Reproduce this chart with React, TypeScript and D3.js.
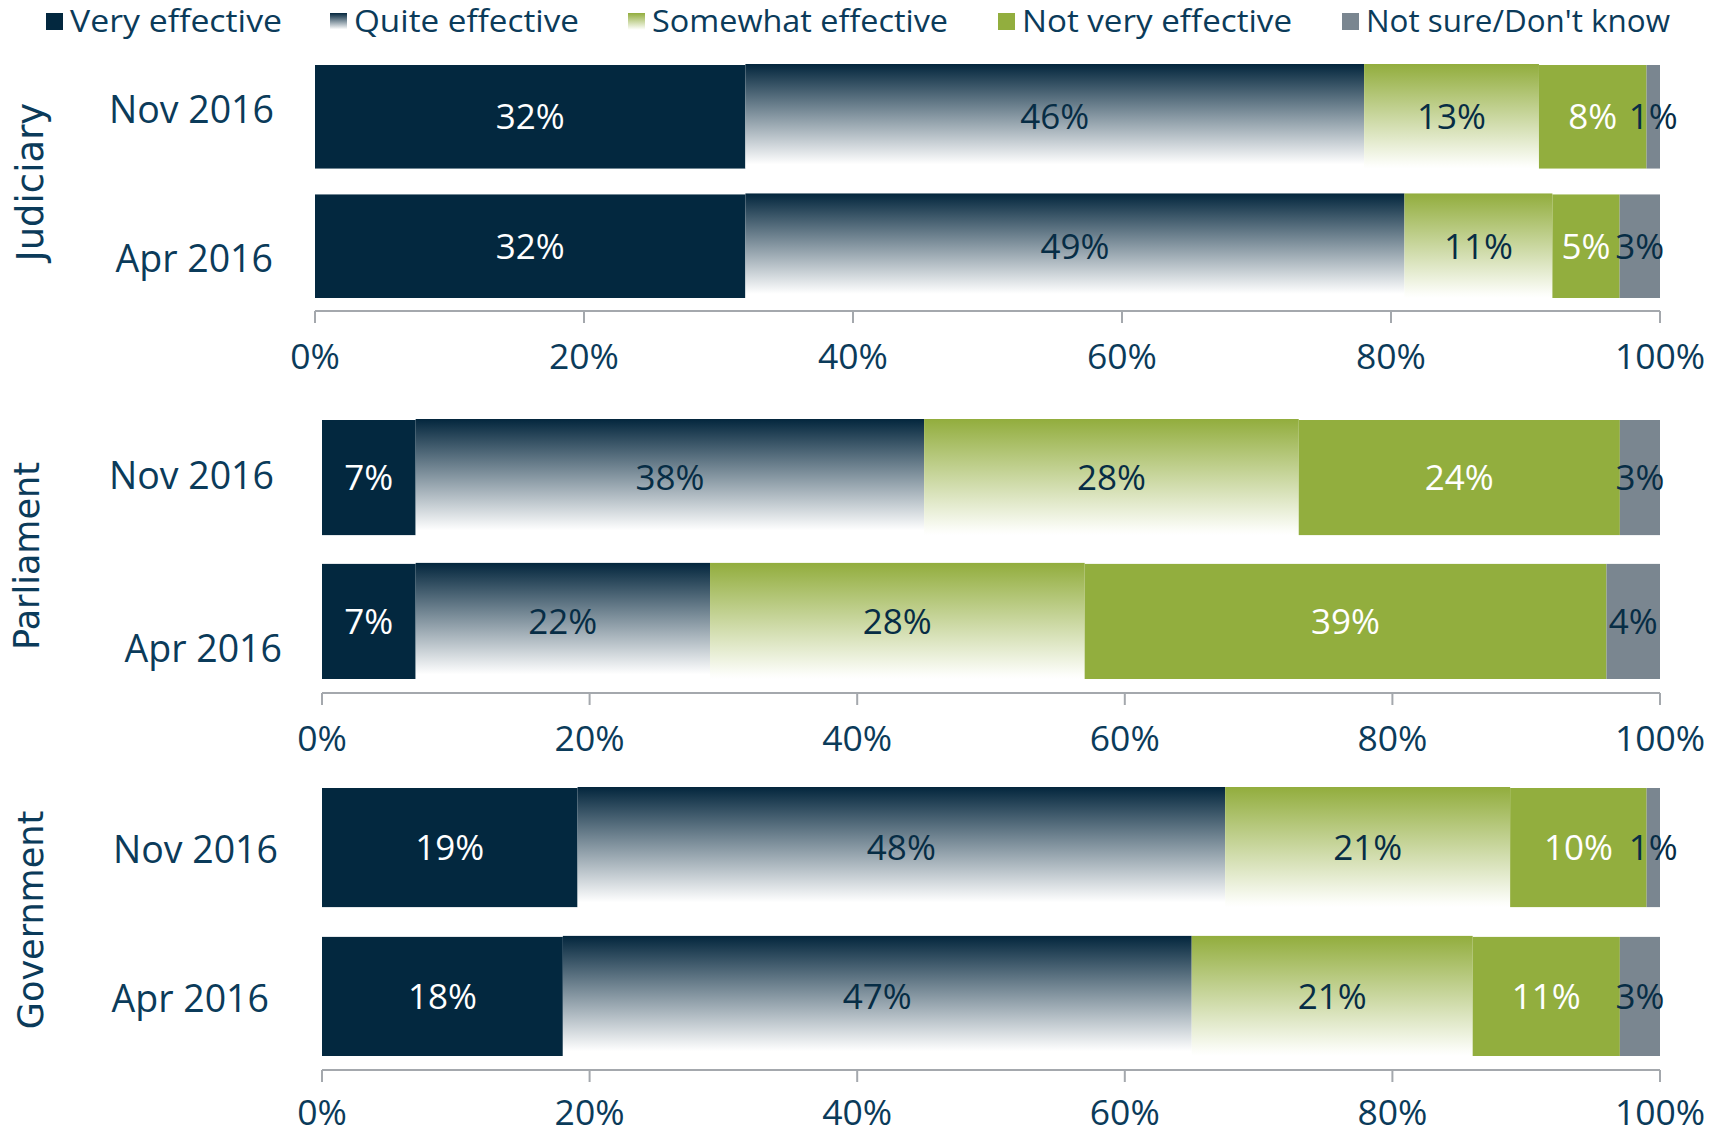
import React from "react";
import * as d3 from "d3";

// ---------- DATA ----------
const seriesNames = ["Very effective", "Quite effective", "Somewhat effective", "Not very effective", "Not sure/Don't know"];
const groups = ["Judiciary", "Parliament", "Government"];
const periods = ["Nov 2016", "Apr 2016"];

const judiciaryNov = [32, 46, 13, 8, 1];
const judiciaryApr = [32, 49, 11, 5, 3];
const parliamentNov = [7, 38, 28, 24, 3];
const parliamentApr = [7, 22, 28, 39, 4];
const governmentNov = [19.1, 48.4, 21.3, 10.2, 1.0];
const governmentApr = [18, 47, 21, 11, 3];

const tickValues = [0, 20, 40, 60, 80, 100];

const groupValues = [
  [judiciaryNov, judiciaryApr],
  [parliamentNov, parliamentApr],
  [governmentNov, governmentApr],
];

// ---------- STYLE / LAYOUT ----------
const W = 1723;
const H = 1134;
const NAVY = "#03283f";
const GREEN = "#92ae3e";
const GREY = "#7a8690";
const TEXT = "#0b3b5a";
const DARKLABEL = "#072d45";
const FONT = "'Open Sans', 'Noto Sans', sans-serif";
const GFONT = "'DejaVu Sans', Verdana, sans-serif";

const fills = [NAVY, "url(#gradQuite)", "url(#gradSomewhat)", GREEN, GREY];
const labelColors = ["#ffffff", DARKLABEL, DARKLABEL, "#ffffff", DARKLABEL];
const gradientSeg = [false, true, true, false, false];

const legendTextX = [70, 354, 652, 1022, 1366];
const legendWidths = [212, 225, 296, 270, 304];

const panels = [
  { x0: 315, x1: 1660, top: 65, bottom: 298, axisY: 311, tickDy: 58, groupX: 43, groupY: 182, groupSize: 37 },
  { x0: 322, x1: 1660, top: 420, bottom: 679, axisY: 693, tickDy: 58, groupX: 39, groupY: 556, groupSize: 35 },
  { x0: 322, x1: 1660, top: 788, bottom: 1056, axisY: 1070, tickDy: 55, groupX: 43, groupY: 920, groupSize: 35 },
];

// per-row category label placement: [right edge, baseline]
const catLabelPos = [
  [[274, 123], [273, 272]],
  [[274, 489], [282, 662]],
  [[278, 863], [269, 1012]],
];

export default function App() {
  return (
    <svg
      width={W}
      height={H}
      viewBox={`0 0 ${W} ${H}`}
      style={{ position: "absolute", left: 0, top: 0, background: "#fff" }}
    >
      <defs>
        <linearGradient id="gradQuite" x1="0" y1="0" x2="0" y2="1">
          <stop offset="0" stopColor="#03263d" />
          <stop offset="0.96" stopColor="#ffffff" />
          <stop offset="1" stopColor="#ffffff" />
        </linearGradient>
        <linearGradient id="gradSomewhat" x1="0" y1="0" x2="0" y2="1">
          <stop offset="0" stopColor="#92ad3d" />
          <stop offset="0.96" stopColor="#fcfdf9" />
          <stop offset="1" stopColor="#ffffff" />
        </linearGradient>
      </defs>

      {/* Legend */}
      {seriesNames.map((name, i) => (
        <g key={name}>
          <rect x={legendTextX[i] - 24} y={13} width={17} height={17} fill={fills[i]} />
          <text
            x={legendTextX[i]}
            y={32}
            fontFamily={FONT}
            fontSize={31}
            fill={TEXT}
            textLength={legendWidths[i]}
            lengthAdjust="spacingAndGlyphs"
          >
            {name}
          </text>
        </g>
      ))}

      {panels.map((p, gi) => {
        const x = d3.scaleLinear().domain([0, 100]).range([p.x0, p.x1]);
        const y = d3.scaleBand<string>().domain(periods).range([p.top, p.bottom]).paddingInner(0.2).paddingOuter(0);
        return (
          <g key={groups[gi]}>
            {/* group label */}
            <text
              transform={`translate(${p.groupX},${p.groupY}) rotate(-90)`}
              textAnchor="middle"
              fontFamily={GFONT}
              fontSize={p.groupSize}
              fill={TEXT}
            >
              {groups[gi]}
            </text>

            {periods.map((per, ri) => {
              const vals = groupValues[gi][ri];
              const stacked = d3.cumsum(vals);
              const y0 = y(per) as number;
              const bh = y.bandwidth();
              const [lx, ly] = catLabelPos[gi][ri];
              return (
                <g key={per}>
                  <text x={lx} y={ly} textAnchor="end" fontFamily={FONT} fontSize={37.5} fill={TEXT}>
                    {per}
                  </text>
                  {vals.map((v, si) => {
                    const start = si === 0 ? 0 : stacked[si - 1];
                    const end = stacked[si];
                    const xs = x(start);
                    const xe = x(end);
                    const ext = gradientSeg[si] ? 1 : 0;
                    return (
                      <rect
                        key={si}
                        x={xs}
                        y={y0 - ext}
                        width={Math.max(0, xe - xs)}
                        height={bh + ext}
                        fill={fills[si]}
                      />
                    );
                  })}
                  {vals.map((v, si) => {
                    const start = si === 0 ? 0 : stacked[si - 1];
                    const end = stacked[si];
                    const cx = (x(start) + x(end)) / 2;
                    return (
                      <text
                        key={"l" + si}
                        x={cx}
                        y={y0 + bh / 2 + 12.5}
                        textAnchor="middle"
                        fontFamily={FONT}
                        fontSize={35}
                        fill={labelColors[si]}
                      >
                        {`${Math.round(v)}%`}
                      </text>
                    );
                  })}
                </g>
              );
            })}

            {/* axis */}
            <line x1={p.x0} x2={p.x1} y1={p.axisY} y2={p.axisY} stroke="#a4a8ad" strokeWidth={2} />
            {tickValues.map((t) => (
              <g key={t}>
                <line x1={x(t)} x2={x(t)} y1={p.axisY} y2={p.axisY + 12} stroke="#a4a8ad" strokeWidth={2} />
                <text
                  x={x(t)}
                  y={p.axisY + p.tickDy}
                  textAnchor="middle"
                  fontFamily={FONT}
                  fontSize={35.5}
                  fill={TEXT}
                >
                  {`${t}%`}
                </text>
              </g>
            ))}
          </g>
        );
      })}
    </svg>
  );
}
